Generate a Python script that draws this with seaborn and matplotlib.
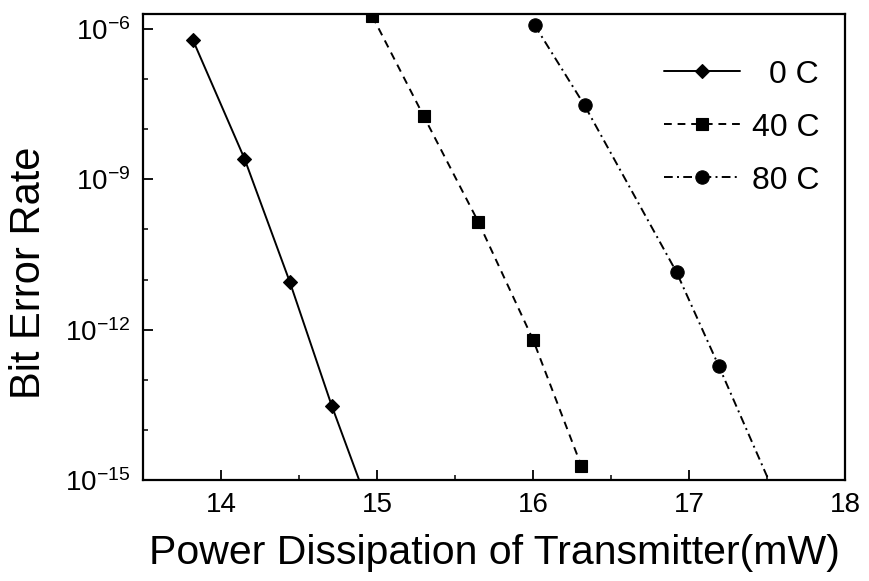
import matplotlib
matplotlib.use("Agg")
import matplotlib.pyplot as plt
import seaborn as sns
import numpy as np
import pandas as pd
from matplotlib.ticker import FixedLocator, FixedFormatter, LogLocator, NullFormatter, MultipleLocator

# ---------------- data ----------------
temps = ["0 C", "40 C", "80 C"]
power_0C = [13.82, 14.15, 14.44, 14.71]
ber_0C = [6.0e-7, 2.6e-9, 9.1e-12, 3.0e-14]
power_40C = [14.97, 15.30, 15.65, 16.00, 16.31]
ber_40C = [1.8e-6, 1.8e-8, 1.4e-10, 6.3e-13, 1.9e-15]
power_80C = [16.01, 16.33, 16.92, 17.19]
ber_80C = [1.2e-6, 3.0e-8, 1.4e-11, 1.9e-13]
# where the fitted lines run into the 1e-15 floor
fit_end_power_0C = [14.885]
fit_end_power_40C = []
fit_end_power_80C = [17.51]
fit_end_ber = 1e-15

xtick_vals = [14, 15, 16, 17, 18]
xtick_labels = ["14", "15", "16", "17", "18"]
ytick_vals = [1e-15, 1e-12, 1e-9, 1e-6]
ytick_labels = ["10$^{-15}$", "10$^{-12}$", "10$^{-9}$", "10$^{-6}$"]
x_label = "Power Dissipation of Transmitter(mW)"
y_label = "Bit Error Rate"

# ---------------- style ----------------
sns.set_theme(style="ticks")
plt.rcParams["font.family"] = ["Liberation Sans", "DejaVu Sans"]
plt.rcParams["mathtext.fontset"] = "custom"
plt.rcParams["mathtext.rm"] = "Liberation Sans"
plt.rcParams["mathtext.it"] = "Liberation Sans:italic"
plt.rcParams["mathtext.bf"] = "Liberation Sans:bold"
plt.rcParams["mathtext.default"] = "regular"
plt.rcParams["axes.unicode_minus"] = False
plt.rcParams["text.color"] = "black"

fig, ax = plt.subplots(figsize=(8.69, 5.81), dpi=100)
fig.subplots_adjust(left=0.1646, right=0.9724, top=0.976, bottom=0.174)

series = [
    (temps[0], power_0C, ber_0C, fit_end_power_0C, "D", "-", 7.6),
    (temps[1], power_40C, ber_40C, fit_end_power_40C, "s", (0, (4, 3)), 8.8),
    (temps[2], power_80C, ber_80C, fit_end_power_80C, "o", (0, (4.5, 2.2, 1, 2.2)), 9.6),
]
for label, px, pb, ext, mk, ls, ms in series:
    xs = list(px) + list(ext)
    ys = list(pb) + [fit_end_ber] * len(ext)
    df = pd.DataFrame({"power": xs, "ber": ys})
    sns.lineplot(data=df, x="power", y="ber", ax=ax, color="black",
                 marker=mk, markersize=ms, markeredgecolor="black",
                 markerfacecolor="black", markeredgewidth=0.8,
                 linestyle=ls, linewidth=1.4,
                 markevery=list(range(len(px))), label=label,
                 estimator=None, errorbar=None, sort=False)

ax.set_yscale("log")
ax.set_xlim(13.5, 18)
ax.set_ylim(1e-15, 2e-6)

ax.xaxis.set_major_locator(FixedLocator(xtick_vals))
ax.xaxis.set_major_formatter(FixedFormatter(xtick_labels))
ax.xaxis.set_minor_locator(MultipleLocator(0.5))
ax.yaxis.set_major_locator(FixedLocator(ytick_vals))
ax.yaxis.set_major_formatter(FixedFormatter(ytick_labels))
ax.yaxis.set_minor_locator(LogLocator(base=10, subs=(1.0,), numticks=40))
ax.yaxis.set_minor_formatter(NullFormatter())

ax.tick_params(axis="both", which="major", direction="in", length=7, width=1.3,
               labelsize=20, color="black", labelcolor="black")
ax.tick_params(axis="both", which="minor", direction="in", length=3.5, width=1.1,
               color="black")
ax.tick_params(axis="y", which="major", pad=9)
ax.tick_params(axis="x", which="major", pad=9)
ax.tick_params(top=False, right=False, which="both")

for sp in ax.spines.values():
    sp.set_visible(True)
    sp.set_linewidth(1.6)
    sp.set_color("black")

ax.set_xlabel(x_label, fontsize=29.5, color="black", labelpad=11)
ax.set_ylabel(y_label, fontsize=30, color="black", labelpad=12)
ax.yaxis.label.set_y(0.444)

leg = ax.legend(loc="upper right", bbox_to_anchor=(0.995, 0.95), frameon=False,
                fontsize=23, handlelength=2.4, handletextpad=0.35,
                labelspacing=0.72, borderaxespad=0.3, labelcolor="black")
for line in leg.get_lines():
    line.set_linewidth(1.4)

# right-align the legend labels
fig.canvas.draw()
texts = leg.get_texts()
widths = [t.get_window_extent().width for t in texts]
wmax = max(widths)
for t, w in zip(texts, widths):
    t.set_position((wmax - w, 0))

fig.savefig("out.png", dpi=100)
